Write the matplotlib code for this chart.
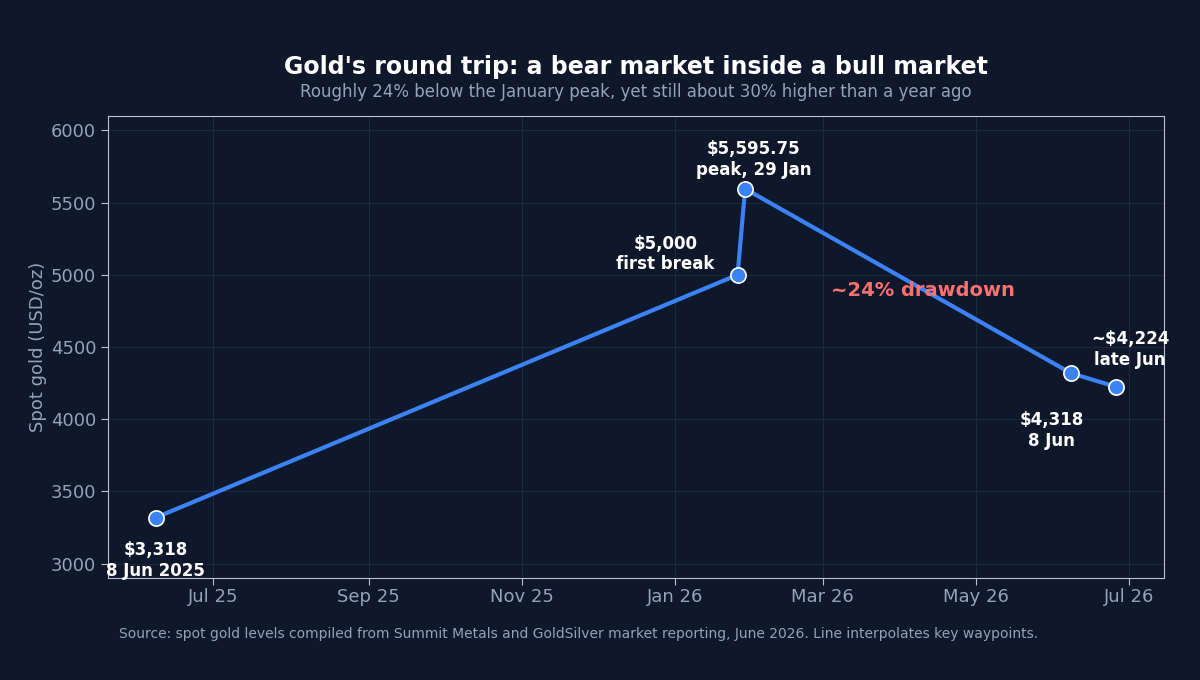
import matplotlib
matplotlib.use("Agg")
import matplotlib.pyplot as plt
import matplotlib.dates as mdates
import pandas as pd

dates = ["2025-06-08", "2026-01-26", "2026-01-29", "2026-06-08", "2026-06-26"]
prices = [3318, 5000, 5595.75, 4318, 4224]
labels = ["$3,318\n8 Jun 2025", "$5,000\nfirst break", "$5,595.75\npeak, 29 Jan",
          "$4,318\n8 Jun", "~$4,224\nlate Jun"]
label_offsets = [(0, -17), (-52, 1), (6, 7), (-14, -27), (10, 13)]
label_va = ["top", "bottom", "bottom", "top", "bottom"]
yticks = [3000, 3500, 4000, 4500, 5000, 5500, 6000]

x = pd.to_datetime(dates)

BG = "#0f172a"
GRID = "#1e293b"
TXT = "#94a3b8"
LINE = "#3b82f6"

fig = plt.figure(figsize=(12, 6.8), dpi=100, facecolor=BG)
ax = fig.add_axes([0.09, 0.15, 0.88, 0.6794])
ax.set_facecolor(BG)

ax.plot(x, prices, color=LINE, lw=3, zorder=3)
ax.scatter(x, prices, s=120, color=LINE, edgecolor="white", linewidth=1.2, zorder=4)

for xi, yi, lab, off, va in zip(x, prices, labels, label_offsets, label_va):
    ax.annotate(lab, (xi, yi), xytext=off, textcoords="offset points",
                ha="center", va=va, color="white", fontsize=12, fontweight="bold",
                linespacing=1.2, zorder=5)

ax.text(pd.Timestamp("2026-04-10"), 4890, "~24% drawdown", color="#f87171",
        fontsize=14, fontweight="bold", ha="center", va="center", zorder=5)

ax.set_xlim(x[0] - pd.Timedelta(days=19), x[-1] + pd.Timedelta(days=19))
ax.set_ylim(2900, 6100)
ax.set_yticks(yticks)
ax.xaxis.set_major_locator(mdates.MonthLocator(bymonth=[1, 3, 5, 7, 9, 11]))
ax.xaxis.set_major_formatter(mdates.DateFormatter("%b %y"))

ax.grid(True, color=GRID, lw=0.8)
ax.set_axisbelow(True)
for s in ax.spines.values():
    s.set_color("#b8c2d0")
    s.set_linewidth(0.8)
ax.tick_params(colors=TXT, labelsize=13, length=5, color="#b8c2d0")
ax.tick_params(axis="x", pad=2.5)
ax.set_ylabel("Spot gold (USD/oz)", color=TXT, fontsize=13, labelpad=3)

fig.text(0.53, 0.902, "Gold's round trip: a bear market inside a bull market",
         ha="center", va="center", color="white", fontsize=17, fontweight="bold")
fig.text(0.53, 0.865, "Roughly 24% below the January peak, yet still about 30% higher than a year ago",
         ha="center", va="center", color=TXT, fontsize=12)
fig.text(0.099, 0.068, "Source: spot gold levels compiled from Summit Metals and GoldSilver market reporting, June 2026. Line interpolates key waypoints.",
         ha="left", va="center", color=TXT, fontsize=10)

fig.savefig("out.png", dpi=100, facecolor=BG)
